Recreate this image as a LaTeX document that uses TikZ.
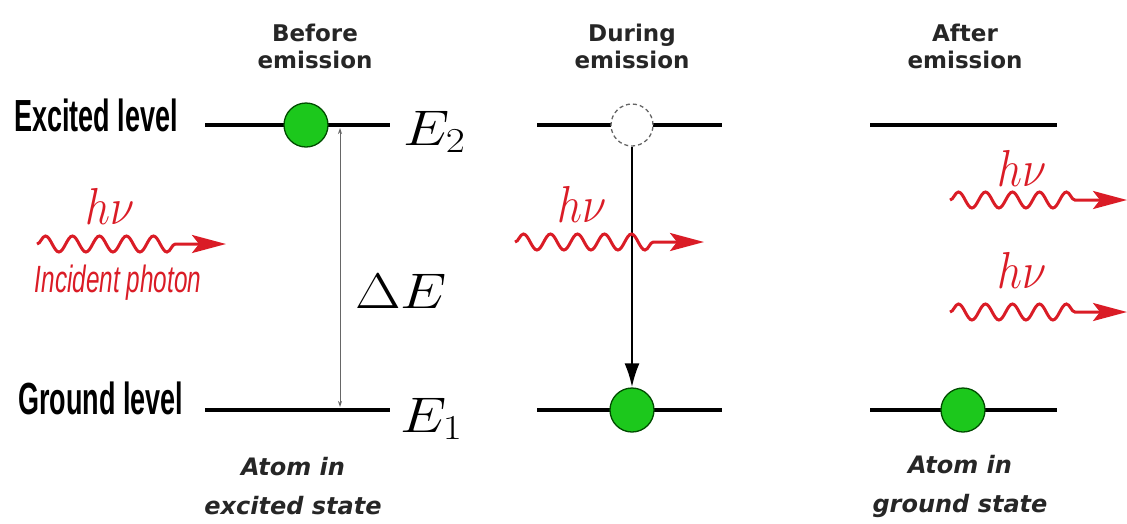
\RequirePackage{fix-cm}
\documentclass[tikz,border=0pt]{standalone}
\usepackage{amsmath}
\usepackage{graphicx}
\usepackage{fontspec}
\setsansfont{DejaVu Sans}
\newfontfamily\narrowfont[FakeStretch=0.6]{Liberation Sans}
\newfontfamily\slimfont[FakeStretch=0.64]{Liberation Sans}
\usetikzlibrary{arrows.meta, decorations.pathmorphing}
\definecolor{photonred}{RGB}{218,28,38}
\definecolor{atomgreen}{RGB}{28,200,28}

\begin{document}
\begin{tikzpicture}[x=1pt, y=-1pt,
    level/.style={line width=3.5pt},
    atom/.style={circle, draw=green!30!black, line width=1.3pt, fill=atomgreen, minimum size=44pt, inner sep=0pt},
    emptyatom/.style={circle, draw=black!60, dash pattern=on 4pt off 3pt, line width=1.3pt, fill=white, minimum size=42pt, inner sep=0pt},
    photon/.style={draw=photonred, line width=3pt, decorate, decoration={snake, segment length=27pt, amplitude=8pt, post length=40pt}, -{Stealth[length=34pt, width=18pt, inset=7pt]}},
    title/.style={font=\sffamily\bfseries\fontsize{23}{27}\selectfont, align=center, text=black!85},
    caption/.style={font=\sffamily\bfseries\itshape\fontsize{24}{39}\selectfont, align=center, text=black!85},
    levelname/.style={font=\narrowfont\bfseries\fontsize{45}{48}\selectfont, anchor=base west, inner sep=0pt},
    energy/.style={font=\fontsize{50}{56}\selectfont, anchor=base west, inner sep=0pt},
    freq/.style={text=photonred, font=\fontsize{52}{56}\selectfont, anchor=base, inner sep=0pt}
]
    \useasboundingbox (0,0) rectangle (1127,523);

    % Column titles
    \node[title] (before) at (315,46) {Before\\emission};
    \node[title] (during) at (632,46) {During\\emission};
    \node[title] (after) at (965,46) {After\\emission};

    % Names of the two levels
    \node[levelname] (exname) at (14,131) {Excited level};
    \node[levelname] (grname) at (18,414) {Ground level};

    % Energy levels of the three stages
    \foreach \stage/\xl/\xr in {b/205/390, d/537/722, a/870/1057} {
        \coordinate (\stage2l) at (\xl,125);
        \coordinate (\stage2r) at (\xr,125);
        \coordinate (\stage1l) at (\xl,410);
        \coordinate (\stage1r) at (\xr,410);
        \draw[level] (\stage2l) -- (\stage2r);
        \draw[level] (\stage1l) -- (\stage1r);
    }

    % Energy labels
    \node[energy] (e2) at (403,145) {\scalebox{1.18}[1]{$E_2$}};
    \node[energy] (e1) at (400,432) {\scalebox{1.18}[1]{$E_1$}};
    \node[energy] (de) at (355,308) {\scalebox{1.18}[1]{$\Delta E$}};

    % Energy gap
    \coordinate (gaptop) at (340,128);
    \coordinate (gapbot) at (340,407);
    \draw[black!60, line width=0.9pt, {Stealth[length=6pt, width=4pt]}-{Stealth[length=6pt, width=4pt]}] (gaptop) -- (gapbot);

    % Atoms
    \node[atom] (start) at (306,125) {};
    \node[emptyatom] (hole) at (632,125) {};
    \node[atom] (landed) at (632,410) {};
    \node[atom] (rest) at (963,410) {};

    % Transition
    \draw[line width=2.4pt, -{Latex[length=24pt, width=15pt]}] (hole.south) -- (landed.north);

    % Photons
    \coordinate (inA) at (37,244);   \coordinate (inB) at (226,244);
    \coordinate (midA) at (515,242); \coordinate (midB) at (704,242);
    \coordinate (upA) at (950,200);  \coordinate (upB) at (1127,200);
    \coordinate (loA) at (950,312);  \coordinate (loB) at (1127,312);
    \draw[photon] (inA) -- (inB);
    \draw[photon] (midA) -- (midB);
    \draw[photon] (upA) -- (upB);
    \draw[photon] (loA) -- (loB);
    \node[freq] (hvin) at (110,224) {\scalebox{0.85}[1]{$h\nu$}};
    \node[freq] (hvmid) at (582,222) {\scalebox{0.85}[1]{$h\nu$}};
    \node[freq] (hvup) at (1022,186) {\scalebox{0.85}[1]{$h\nu$}};
    \node[freq] (hvlo) at (1022,288) {\scalebox{0.85}[1]{$h\nu$}};
    \node[text=photonred, font=\slimfont\itshape\fontsize{38}{42}\selectfont, inner sep=0pt] (incident) at (118,283) {Incident photon};

    % States
    \node[caption] (excited) at (293,486) {Atom in\\excited state};
    \node[caption] (ground) at (960,486) {Atom in\\ground state};
\end{tikzpicture}
\end{document}
